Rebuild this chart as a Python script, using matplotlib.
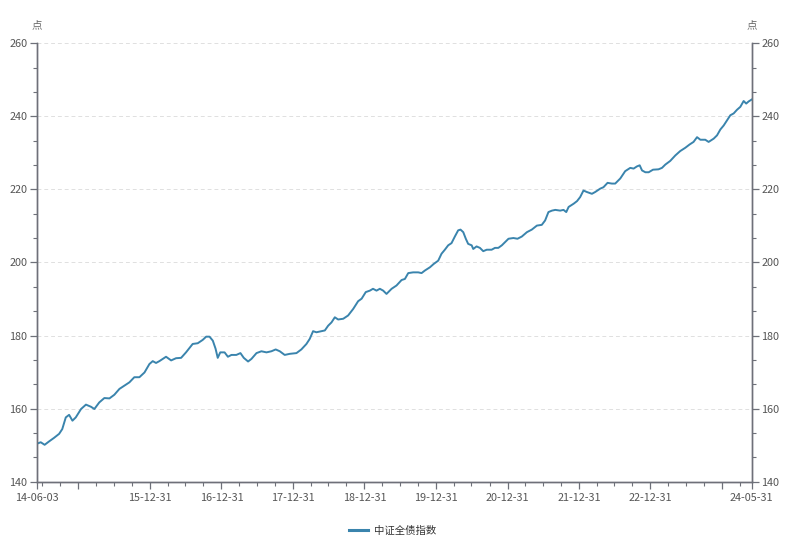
import pandas as pd
import matplotlib.pyplot as plt
import matplotlib.dates as mdates
from matplotlib.ticker import MultipleLocator, AutoMinorLocator, FixedLocator

plt.rcParams['font.family'] = ['Noto Sans CJK SC', 'DejaVu Sans']

# 中证全债指数, values
dates = [
    "2014-06-03", "2014-06-22", "2014-07-12", "2014-08-03", "2014-08-29", "2014-09-24",
    "2014-10-10", "2014-10-28", "2014-11-14", "2014-12-01", "2014-12-18",
    "2015-01-14", "2015-02-08", "2015-03-06", "2015-03-23", "2015-04-17", "2015-05-13",
    "2015-06-08", "2015-07-03", "2015-07-29", "2015-08-23", "2015-09-18", "2015-10-13",
    "2015-11-08", "2015-12-04", "2015-12-29",
    "2016-01-15", "2016-02-01", "2016-02-18", "2016-03-23", "2016-04-18", "2016-05-13",
    "2016-06-08", "2016-07-03", "2016-08-06", "2016-09-01", "2016-09-26", "2016-10-14",
    "2016-10-31", "2016-11-17", "2016-12-01", "2016-12-12", "2016-12-25",
    "2017-01-16", "2017-02-02", "2017-02-20", "2017-03-17", "2017-04-07", "2017-04-24",
    "2017-05-16", "2017-06-02", "2017-06-28", "2017-07-23", "2017-08-18", "2017-09-12",
    "2017-10-04", "2017-10-25", "2017-11-19", "2017-12-15",
    "2018-01-18", "2018-02-12", "2018-03-10", "2018-03-27", "2018-04-13", "2018-04-30",
    "2018-05-26", "2018-06-12", "2018-06-29", "2018-07-16", "2018-08-02", "2018-08-19",
    "2018-09-14", "2018-10-09", "2018-11-04", "2018-11-29", "2018-12-17",
    "2019-01-07", "2019-01-28", "2019-02-13", "2019-03-03", "2019-03-20", "2019-04-06",
    "2019-04-23", "2019-05-19", "2019-06-13", "2019-07-09", "2019-07-26", "2019-08-12",
    "2019-09-06", "2019-10-02", "2019-10-19", "2019-11-05", "2019-12-01", "2019-12-20",
    "2020-01-12", "2020-01-29", "2020-02-15", "2020-03-03", "2020-03-20", "2020-04-06",
    "2020-04-23", "2020-05-05", "2020-05-19", "2020-06-01", "2020-06-13", "2020-07-01",
    "2020-07-09", "2020-07-26", "2020-08-12", "2020-08-29", "2020-09-16", "2020-10-11",
    "2020-10-28", "2020-11-14", "2020-12-02", "2020-12-19",
    "2021-01-05", "2021-01-30", "2021-02-20", "2021-03-14", "2021-04-09", "2021-05-04",
    "2021-05-30", "2021-06-24", "2021-07-11", "2021-07-28", "2021-08-15", "2021-09-01",
    "2021-09-26", "2021-10-13", "2021-10-27", "2021-11-08", "2021-12-04", "2021-12-21",
    "2022-01-06", "2022-01-23", "2022-02-09", "2022-03-07", "2022-03-24", "2022-04-18",
    "2022-05-05", "2022-05-26", "2022-06-17", "2022-07-04", "2022-07-30", "2022-08-24",
    "2022-09-19", "2022-10-06", "2022-10-23", "2022-11-06", "2022-11-18", "2022-12-05",
    "2022-12-22",
    "2023-01-13", "2023-02-10", "2023-02-28", "2023-03-17", "2023-04-11", "2023-05-07",
    "2023-06-01", "2023-06-27", "2023-07-19", "2023-08-08", "2023-08-26", "2023-09-12",
    "2023-10-07", "2023-10-24", "2023-11-19", "2023-12-06", "2023-12-23",
    "2024-01-09", "2024-01-26", "2024-02-12", "2024-02-29", "2024-03-17", "2024-04-03",
    "2024-04-20", "2024-05-03", "2024-05-16", "2024-05-31",
]
values = [
    150.4, 150.8, 150.1, 151.0, 152.0, 153.1,
    154.4, 157.6, 158.3, 156.7, 157.6,
    159.9, 161.1, 160.5, 159.9, 161.7, 162.9,
    162.8, 163.8, 165.4, 166.3, 167.2, 168.6,
    168.6, 169.9, 172.2,
    173.0, 172.5, 173.0, 174.2, 173.2, 173.8,
    173.9, 175.4, 177.7, 177.9, 178.8, 179.7,
    179.7, 178.6, 176.4, 173.9, 175.4,
    175.4, 174.2, 174.7, 174.7, 175.2, 173.9,
    172.9, 173.6, 175.2, 175.7, 175.4, 175.7,
    176.2, 175.7, 174.7, 175.0,
    175.2, 176.2, 177.7, 179.1, 181.2, 180.9,
    181.2, 181.4, 182.7, 183.6, 185.0, 184.4,
    184.6, 185.5, 187.3, 189.4, 190.1,
    191.9, 192.3, 192.8, 192.3, 192.8, 192.3,
    191.4, 192.8, 193.7, 195.2, 195.5, 197.1,
    197.3, 197.3, 197.1, 197.8, 198.7, 199.6,
    200.5, 202.4, 203.5, 204.7, 205.3, 207.1,
    208.8, 209.0, 208.3, 206.5, 205.1, 204.7,
    203.7, 204.4, 204.0, 203.1, 203.5, 203.5,
    204.0, 204.0, 204.7, 205.6,
    206.5, 206.7, 206.5, 207.1, 208.3, 209.0,
    210.1, 210.3, 211.5, 213.8, 214.2, 214.4,
    214.2, 214.4, 213.8, 215.2, 216.1, 216.8,
    217.9, 219.7, 219.3, 218.8, 219.3, 220.2,
    220.6, 221.8, 221.6, 221.6, 223.0, 225.0,
    225.9, 225.7, 226.3, 226.6, 225.2, 224.7,
    224.7,
    225.4, 225.5, 225.9, 226.8, 227.8, 229.3,
    230.5, 231.4, 232.3, 233.0, 234.3, 233.6,
    233.6, 233.0, 233.9, 234.8, 236.4,
    237.5, 238.9, 240.3, 240.8, 241.8, 242.6,
    244.2, 243.5, 244.1, 244.6,
]

x_ticks = ["2014-06-03", "2014-12-31", "2015-12-31", "2016-12-31", "2017-12-31",
           "2018-12-31", "2019-12-31", "2020-12-31", "2021-12-31", "2022-12-31",
           "2023-12-31", "2024-05-31"]
x_labels = ["14-06-03", "", "15-12-31", "16-12-31", "17-12-31", "18-12-31",
            "19-12-31", "20-12-31", "21-12-31", "22-12-31", "", "24-05-31"]

series_name = "中证全债指数"
unit = "点"

dt = pd.to_datetime(dates)
axis_col = "#6e7079"
line_col = "#3a84ad"

fig = plt.figure(figsize=(7.94, 5.41), dpi=100)
ax = fig.add_axes([0.0466, 0.1096, 0.9001, 0.8104])

ax.plot(dt, values, color=line_col, lw=1.4, label=series_name, zorder=3)

ax.set_xlim(pd.Timestamp(x_ticks[0]), pd.Timestamp(x_ticks[-1]))
ax.set_ylim(140, 260)

# x axis ticks
ax.xaxis.set_major_locator(FixedLocator(mdates.date2num(pd.to_datetime(x_ticks))))
ax.set_xticklabels(x_labels)
qe = pd.date_range("2014-06-30", "2024-03-31", freq="QE")
ax.xaxis.set_minor_locator(FixedLocator(mdates.date2num(qe)))

# y axis ticks
ax.yaxis.set_major_locator(MultipleLocator(20))
ax.yaxis.set_minor_locator(AutoMinorLocator(3))
ax.grid(axis="y", which="major", color="#e0e0e0", ls=(0, (4, 3)), lw=0.7)

ax2 = ax.twinx()
ax2.set_ylim(140, 260)
ax2.yaxis.set_major_locator(MultipleLocator(20))
ax2.yaxis.set_minor_locator(AutoMinorLocator(3))

for a in (ax, ax2):
    a.spines["top"].set_visible(False)
    for s in ("left", "right", "bottom"):
        a.spines[s].set_color(axis_col)
        a.spines[s].set_linewidth(1.0)
    a.tick_params(which="major", length=5, width=0.9, color=axis_col,
                  labelsize=7.8, labelcolor="#555555", pad=2)
    a.tick_params(which="minor", length=3, width=0.8, color=axis_col)
ax.tick_params(axis="x", pad=3)

fig.text(0.0466, 0.954, unit, ha="center", va="center", fontsize=7.5, color="#666666")
fig.text(0.9467, 0.954, unit, ha="center", va="center", fontsize=7.5, color="#666666")

leg = fig.legend(loc="center", bbox_to_anchor=(0.494, 0.019), frameon=False,
                 fontsize=7.5, handlelength=1.9, handletextpad=0.5)
for t in leg.get_texts():
    t.set_color("#333333")
for h in leg.get_lines():
    h.set_linewidth(2.2)

fig.savefig("out.png", dpi=100)
